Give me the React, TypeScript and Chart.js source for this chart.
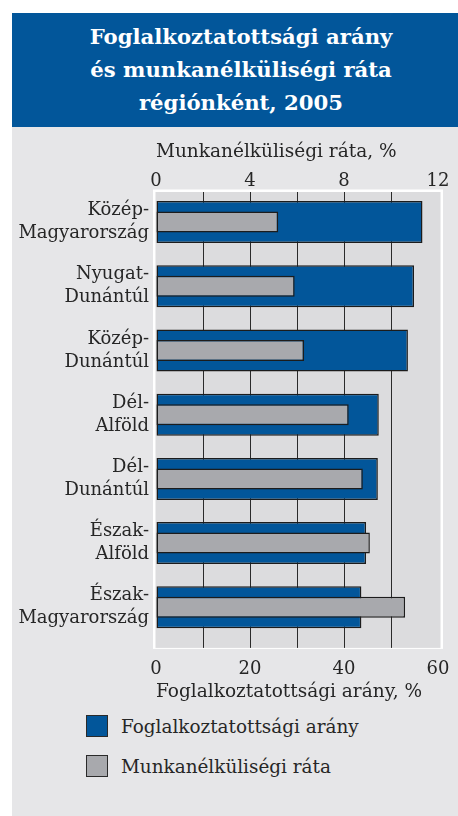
import React, { useEffect, useRef } from 'react';
import { Chart, registerables } from 'chart.js';

Chart.register(...registerables);

const regions: string[][] = [
  ['Közép-', 'Magyarország'],
  ['Nyugat-', 'Dunántúl'],
  ['Közép-', 'Dunántúl'],
  ['Dél-', 'Alföld'],
  ['Dél-', 'Dunántúl'],
  ['Észak-', 'Alföld'],
  ['Észak-', 'Magyarország'],
];
const employmentRate = [56.7, 54.9, 53.6, 47.4, 47.2, 44.7, 43.7];
const unemploymentRate = [5.2, 5.9, 6.3, 8.2, 8.8, 9.1, 10.6];
const employmentTicks = [0, 20, 40, 60];
const unemploymentTicks = [0, 4, 8, 12];
const gridValues = [10, 20, 30, 40, 50];

const TITLE_LINES = ['Foglalkoztatottsági arány', 'és munkanélküliségi ráta', 'régiónként, 2005'];
const EMP_LABEL = 'Foglalkoztatottsági arány';
const UNEMP_LABEL = 'Munkanélküliségi ráta';

const BLUE = '#02569A';
const GREY_BAR = '#A8A9AD';
const PANEL = '#E6E6E8';
const PLOT_BG = '#DCDCDE';
const INK = '#262626';
const FONT = "'DejaVu Serif', serif";

const plotFrame = {
  id: 'plotFrame',
  beforeDraw(chart: any) {
    const { ctx, chartArea: a, scales } = chart;
    ctx.save();
    ctx.fillStyle = '#FFFFFF';
    ctx.fillRect(a.left - 3, a.top - 0.5, a.width + 8, a.height + 10);
    ctx.fillStyle = PLOT_BG;
    ctx.fillRect(a.left - 0.5, a.top + 2, a.width + 3, a.height + 6.5);
    ctx.strokeStyle = '#2a2a2a';
    ctx.lineWidth = 1;
    for (const v of gridValues) {
      const x = Math.round(scales.x.getPixelForValue(v)) + 0.5;
      ctx.beginPath();
      ctx.moveTo(x, a.top + 2);
      ctx.lineTo(x, a.bottom + 8.5);
      ctx.stroke();
    }
    ctx.restore();
  },
};

const hiddenGrid = (len: number) => ({
  display: true,
  drawOnChartArea: false,
  drawTicks: true,
  tickLength: len,
  color: 'rgba(0,0,0,0)',
});

function RegionChart() {
  const ref = useRef<HTMLCanvasElement | null>(null);
  useEffect(() => {
    if (!ref.current) return;
    const tickFont = { family: FONT, size: 18, lineHeight: 1 };
    const titleFont = { family: FONT, size: 18.5, lineHeight: 1.2 };
    const chart = new Chart(ref.current, {
      type: 'bar',
      data: {
        labels: regions,
        datasets: [
          {
            label: EMP_LABEL,
            data: employmentRate,
            xAxisID: 'x',
            backgroundColor: BLUE,
            borderColor: '#1c1c1c',
            borderWidth: 1.5,
            borderSkipped: false,
            barPercentage: 0.654,
            categoryPercentage: 1,
            grouped: false,
            order: 2,
          },
          {
            label: UNEMP_LABEL,
            data: unemploymentRate,
            xAxisID: 'x2',
            backgroundColor: GREY_BAR,
            borderColor: '#1c1c1c',
            borderWidth: 1.5,
            borderSkipped: false,
            barPercentage: 0.327,
            categoryPercentage: 1,
            grouped: false,
            order: 1,
          },
        ] as any,
      },
      options: {
        indexAxis: 'y',
        responsive: false,
        animation: false,
        layout: { padding: { left: 0, right: 20, top: 0, bottom: 0 } },
        plugins: { legend: { display: false }, tooltip: { enabled: false } },
        scales: {
          x: {
            type: 'linear',
            position: 'bottom',
            min: 0,
            max: 60,
            afterBuildTicks: (s: any) => {
              s.ticks = employmentTicks.map((v) => ({ value: v }));
            },
            ticks: { padding: 0, font: tickFont, color: INK },
            grid: hiddenGrid(21),
            border: { display: false },
            title: {
              display: true,
              text: 'Foglalkoztatottsági arány, %',
              align: 'start',
              color: INK,
              font: titleFont,
              padding: { top: 0, bottom: 4 },
            },
            afterFit: (s: any) => {
              s.height = 67.6;
            },
          },
          x2: {
            type: 'linear',
            position: 'top',
            min: 0,
            max: 12,
            afterBuildTicks: (s: any) => {
              s.ticks = unemploymentTicks.map((v) => ({ value: v }));
            },
            ticks: { padding: 0, font: tickFont, color: INK },
            grid: hiddenGrid(0.01),
            border: { display: false },
            title: {
              display: true,
              text: 'Munkanélküliségi ráta, %',
              align: 'start',
              color: INK,
              font: titleFont,
              padding: { top: 14, bottom: 0 },
            },
            afterFit: (s: any) => {
              s.height = 63;
            },
          },
          y: {
            type: 'category',
            offset: true,
            ticks: { padding: 7, font: { family: FONT, size: 18, lineHeight: 1.28 }, color: INK },
            grid: { display: false, drawTicks: false },
            border: { display: false },
            afterFit: (s: any) => {
              s.width = 156;
            },
          },
        },
      } as any,
      plugins: [plotFrame],
    });
    return () => chart.destroy();
  }, []);
  return (
    <canvas
      ref={ref}
      width={458}
      height={580}
      style={{ position: 'absolute', left: 0, top: 127, width: 458, height: 580 }}
    />
  );
}

function LegendItem({ color, label, top }: { color: string; label: string; top: number }) {
  return (
    <div style={{ position: 'absolute', left: 86, top, height: 24, display: 'flex', alignItems: 'center' }}>
      <div
        style={{
          width: 20,
          height: 20,
          background: color,
          border: '1.5px solid #2a2a2a',
        }}
      />
      <span
        style={{
          marginLeft: 13,
          fontFamily: FONT,
          fontSize: 18.4,
          color: INK,
          whiteSpace: 'nowrap',
        }}
      >
        {label}
      </span>
    </div>
  );
}

export default function App() {
  return (
    <div style={{ position: 'relative', width: 458, height: 816, overflow: 'hidden', background: '#FFFFFF' }}>
      <style>{'body{margin:0}'}</style>
      <div style={{ position: 'absolute', left: 12, top: 13, width: 458, height: 803, background: PANEL }}>
        <div
          style={{
            position: 'absolute',
            left: 0,
            top: 0,
            width: 458,
            height: 114,
            background: BLUE,
            color: '#FFFFFF',
            fontFamily: FONT,
            fontWeight: 'bold',
            fontSize: 21.2,
            lineHeight: '33px',
            textAlign: 'center',
            paddingTop: 7,
            boxSizing: 'border-box',
          }}
        >
          {TITLE_LINES.map((t) => (
            <div key={t}>{t}</div>
          ))}
        </div>
      </div>
      <RegionChart />
      <LegendItem color={BLUE} label={EMP_LABEL} top={714} />
      <LegendItem color={GREY_BAR} label={UNEMP_LABEL} top={754} />
    </div>
  );
}
